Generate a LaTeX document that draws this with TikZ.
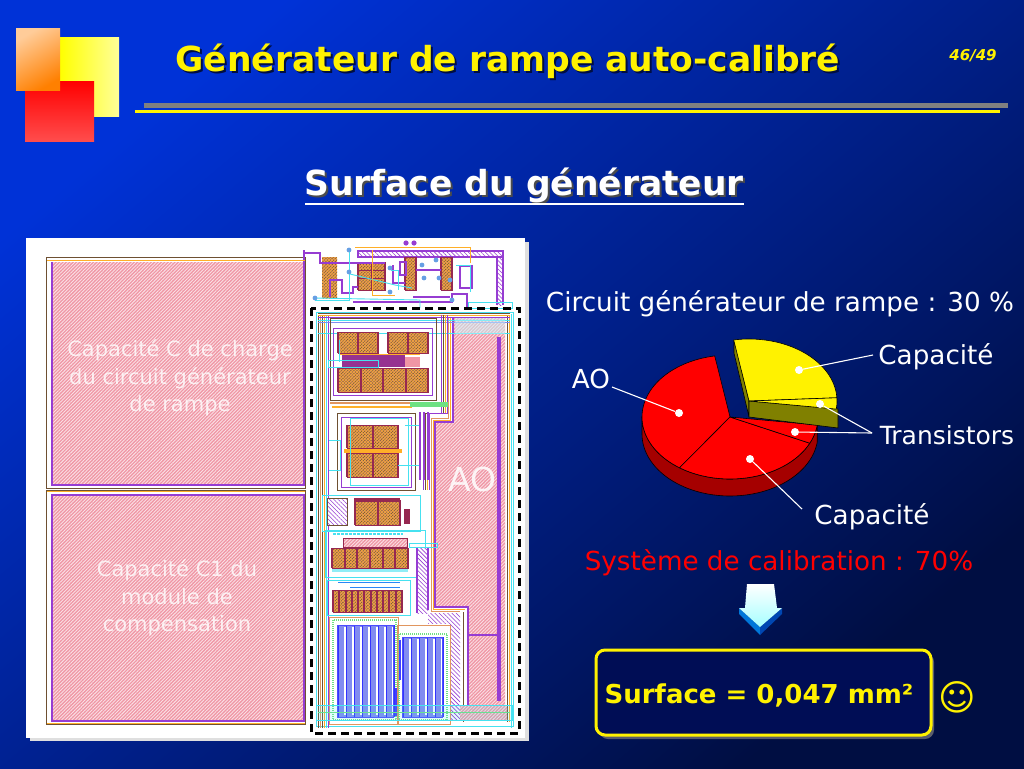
\documentclass[tikz,border=0pt]{standalone}
\usepackage{fontspec}
\setmainfont{DejaVu Sans}
\usetikzlibrary{patterns.meta}
\definecolor{bgtop}{RGB}{0,50,215}
\definecolor{bgbottom}{RGB}{0,14,66}
\definecolor{logoyellow}{RGB}{255,255,153}
\definecolor{layoutpink}{RGB}{240,150,165}
\definecolor{layoutpurple}{RGB}{150,60,210}
\definecolor{layoutcyan}{RGB}{70,225,240}
\definecolor{layoutbrown}{RGB}{225,150,95}
\definecolor{layoutorange}{RGB}{255,175,40}
\definecolor{layoutmaroon}{RGB}{150,40,80}
\definecolor{layoutblue}{RGB}{130,140,240}
\definecolor{layoutdark}{RGB}{110,80,50}
\definecolor{layoutgreen}{RGB}{110,225,130}
\definecolor{pieside}{RGB}{165,0,0}
\definecolor{pieolive}{RGB}{128,128,0}
\tikzset{
  titletext/.style={font=\bfseries\fontsize{34.5}{38}\selectfont, text=yellow},
  headtext/.style={font=\bfseries\fontsize{34.5}{38}\selectfont, text=white},
  bodytext/.style={font=\fontsize{26.2}{28}\selectfont, text=white},
  chiptext/.style={font=\fontsize{21}{27.5}\selectfont, text=white, opacity=0.8, align=center},
  leader/.style={white, line width=1.1pt},
  piedot/.style={circle, fill=white, inner sep=0pt, minimum size=8pt},
  pieedge/.style={black, line width=0.6pt, line join=round},
  pinkplate/.style={pattern={Lines[angle=45,distance=2.4pt,line width=0.9pt]}, pattern color=white!70!layoutpink, preaction={fill=layoutpink}},
  brownplate/.style={pattern={Lines[angle=45,distance=2.2pt,line width=0.6pt]}, pattern color=layoutdark, preaction={fill=layoutbrown},
    postaction={pattern={Lines[angle=-45,distance=2.2pt,line width=0.5pt]}, pattern color=layoutorange}},
  routeband/.style={pattern={Lines[angle=-45,distance=3pt,line width=0.6pt]}, pattern color=layoutpurple, preaction={fill=white}},
  wire/.style={layoutpurple, line width=1.2pt},
  thickwire/.style={layoutpurple, line width=2.4pt},
  cyanwire/.style={layoutcyan, line width=0.9pt},
}
% bloc de transistors
\newcommand{\chipblock}[5]{
  \fill[brownplate] (#1,#2) rectangle (#3,#4);
  \foreach \k in {0,...,#5}
    \fill[layoutmaroon] ({#1+(#3-#1)*\k/#5-1},#2) rectangle ++(2,{#4-#2});
  \draw[layoutmaroon, line width=1pt] (#1,#2) rectangle (#3,#4);
}
% doigts de capacite
\newcommand{\capfingers}[5]{
  \fill[layoutblue] (#1,#2) rectangle (#3,#4);
  \foreach \k in {0,...,#5} {
    \draw[white, line width=1.4pt] ({#1+(#3-#1)*\k/#5},{#2+2}) -- ({#1+(#3-#1)*\k/#5},{#4-2});
    \draw[blue!80!white, line width=0.5pt] ({#1+(#3-#1)*\k/#5+1.5},#2) -- ({#1+(#3-#1)*\k/#5+1.5},#4);
  }
  \draw[blue!70!white, line width=0.7pt] (#1,#2) rectangle (#3,#4);
}
\begin{document}
\begin{tikzpicture}[x=1pt, y=-1pt]
  \useasboundingbox (0,0) rectangle (1024,768);
  \shade[shading=axis, top color=bgtop, bottom color=bgbottom, shading angle=40] (0,0) rectangle (1024,768);

  % logo
  \shade[left color=yellow, right color=logoyellow] (60,38) rectangle (119,116);
  \shade[top color=red, bottom color=red!70!white] (25,81) rectangle (94,141);
  \shade[shading=axis, top color=orange!40!white, bottom color=orange, shading angle=30] (16,29) rectangle (60,90);
  \fill[gray] (144,103) rectangle (1008,108);
  \fill[yellow] (135,110) rectangle (1000,113);

  % titres
  \node[titletext, text=bgbottom] at (510,63) {Générateur de rampe auto-calibré};
  \node[titletext] (mainTitle) at (508,61) {Générateur de rampe auto-calibré};
  \node[font=\bfseries\itshape\fontsize{15}{18}\selectfont, text=yellow] (pageNum) at (973,56) {46/49};
  \node[headtext, text=black!70] at (526,187) {Surface du générateur};
  \node[headtext] (subTitle) at (524,185) {Surface du générateur};
  \draw[white, line width=1.5pt] (305,204) -- (744,204);

  % panneau du layout
  \fill[gray!25] (30,242) rectangle (529,741);
  \fill[white] (26,238) rectangle (525,738);

  % capacites C et C1
  \draw[layoutdark, line width=0.8pt] (46,257) rectangle (305,488);
  \draw[layoutdark, line width=0.8pt] (46,490) rectangle (305,724);
  \fill[pinkplate] (52,262) rectangle (304,485);
  \fill[pinkplate] (52,495) rectangle (304,721);
  \draw[layoutpurple, line width=1.4pt] (52,262) -- (52,485) -- (304,485) -- (304,250);
  \draw[layoutpurple, line width=1.4pt] (52,495) -- (52,721) -- (304,721) -- (304,495) -- cycle;
  \draw[layoutorange, line width=1pt] (47,260) -- (305,260);
  \draw[layoutorange, line width=1pt] (47,491) -- (305,491);
  \draw[layoutorange, line width=1pt] (47,723) -- (305,723);
  \node[chiptext] (capC) at (180,378) {Capacité C de charge\\du circuit générateur\\de rampe};
  \node[chiptext] (capCone) at (177,598) {Capacité C1 du\\module de\\compensation};

  % circuit du haut
  \fill[routeband] (358,251) rectangle (503,257);
  \fill[routeband] (497,251) rectangle (503,305);
  \draw[wire] (358,251) rectangle (503,257);
  \draw[wire] (497,257) -- (497,305) (503,257) -- (503,305);
  \fill[brownplate] (322,257) rectangle (337,298);
  \chipblock{358}{262}{385}{290}{2}
  \chipblock{405}{257}{416}{290}{1}
  \chipblock{441}{257}{452}{290}{1}
  \draw[thickwire] (305,253) -- (320,253) -- (320,263) -- (385,263);
  \draw[thickwire] (330,297) -- (330,280) -- (342,280) -- (342,293) -- (353,293) -- (353,287) -- (358,287);
  \draw[thickwire] (353,302) -- (452,302) -- (452,294) -- (467,294) -- (467,307);
  \draw[thickwire] (413,297) -- (450,297);
  \draw[thickwire] (460,266) -- (472,266) -- (472,288) -- (460,288) -- cycle;
  \draw[wire] (393,265) -- (393,283) -- (405,283) (416,270) -- (441,270) (400,275) rectangle (406,262);
  \draw[layoutmaroon, line width=1pt] (358,270) -- (385,270) (358,278) -- (385,278);
  \draw[cyanwire] (349,250) -- (349,300) -- (315,300);
  \draw[cyanwire] (315,298) -- (420,300) -- (420,308);
  \draw[cyanwire] (350,274) -- (395,285) -- (412,288);
  \draw[cyanwire] (391,270) -- (398,270) -- (398,290) (456,265) -- (470,265) -- (470,292);
  \draw[cyanwire] (468,302) rectangle (512,308);
  \draw[layoutorange, line width=0.8pt] (355,247) -- (470,247) -- (470,263);
  \draw[layoutorange, line width=0.8pt] (372,250) -- (372,295) -- (395,295);
  \foreach \px in {406,414} \fill[layoutpurple] (\px,243) circle (2.6);
  \foreach \px/\py in {349/250, 349/272, 390/268, 436/260, 439/278, 450/280, 452/300, 422/265, 424/278, 315/298, 390/292}
    \fill[layoutcyan!60!layoutpurple] (\px,\py) circle (2.4);

  % bande AO
  \fill[pinkplate] (453,317) -- (505,317) -- (505,720) -- (468,720) -- (468,607) -- (435,607) -- (435,422) -- (453,422) -- cycle;
  \draw[wire] (453,317) -- (453,422) -- (435,422) -- (435,607) -- (468,607) -- (468,720);
  \draw[wire] (500,338) -- (500,700) -- (498,700) -- (498,338) -- cycle;
  \draw[wire] (468,635) -- (500,635);
  \draw[layoutbrown, line width=1pt] (448,317) -- (448,418) -- (431,418) -- (431,611) -- (460,611);
  \draw[layoutorange, line width=0.8pt] (450,317) -- (450,420) -- (433,420) -- (433,609) -- (465,609);
  \draw[layoutdark, line width=0.8pt] (507,315) -- (507,722);
  \draw[layoutorange, line width=0.8pt] (509,315) -- (509,722);
  \draw[layoutdark, line width=0.8pt] (463,612) -- (463,722);
  \draw[cyanwire] (513,312) -- (513,726) -- (316,726) -- (316,312) -- cycle;
  \draw[cyanwire] (511,314) -- (511,728);
  \node[font=\fontsize{33}{38}\selectfont, text=white, opacity=0.85] (aoLabel) at (472,479) {AO};

  % colonne de gauche du bloc
  \foreach \px/\pc in {318/layoutdark, 320/layoutbrown, 322/layoutdark, 324/layoutorange, 326/layoutcyan, 328/layoutpurple}
    \draw[\pc, line width=1pt] (\px,315) -- (\px,728);

  % anneaux du haut
  \foreach \ry/\rc in {313/layoutdark, 315/layoutorange, 317/layoutpurple, 320/layoutcyan, 322/layoutblue, 333/layoutcyan}
    \draw[\rc, line width=0.9pt] (318,\ry) -- (510,\ry);
  \foreach \rx/\rc in {441/layoutpurple, 443/layoutdark, 445/layoutorange, 447/layoutpurple}
    \draw[\rc, line width=0.9pt] (\rx,315) -- (\rx,413) -- ({\rx-18},413) -- ({\rx-18},490);

  % transistors du milieu
  \draw[layoutdark, line width=1pt] (330,318) rectangle (436,400);
  \draw[layoutpurple, line width=1pt] (333,328) rectangle (432,395);
  \chipblock{338}{332}{378}{353}{2}
  \chipblock{388}{332}{428}{353}{2}
  \fill[layoutmaroon!50!layoutpurple] (342,355) rectangle (405,367);
  \fill[layoutpink] (405,357) rectangle (420,367);
  \chipblock{338}{368}{428}{392}{4}
  \draw[layoutorange, line width=0.9pt] (340,354) -- (420,354);
  \draw[cyanwire] (328,360) rectangle (378,367);
  \draw[cyanwire] (339,340) -- (339,362);
  \fill[layoutcyan!30!white, opacity=0.5] (455,318) rectangle (505,334);
  \draw[layoutbrown, line width=1.5pt] (330,403) -- (448,403);
  \draw[layoutorange, line width=1.2pt] (332,407) -- (412,407);
  \fill[layoutgreen] (410,402) rectangle (448,407);

  \draw[layoutdark, line width=1pt] (337,413) rectangle (415,490);
  \draw[layoutpurple, line width=1pt] (341,417) rectangle (411,487);
  \chipblock{347}{425}{398}{448}{2}
  \chipblock{347}{453}{398}{477}{2}
  \fill[layoutorange] (344,449) rectangle (402,453);
  \draw[cyanwire] (350,418) rectangle (408,485);
  \draw[cyanwire] (329,440) -- (340,440) -- (340,470) -- (329,470);
  \draw[cyanwire] (405,425) -- (420,425) -- (420,465) -- (398,465);
  \foreach \rx in {420,424,428}
    \draw[wire] (\rx,412) -- (\rx,480);

  % transistors du bas
  \fill[routeband] (327,498) rectangle (347,525);
  \draw[layoutdark, line width=1pt] (327,498) rectangle (347,525);
  \chipblock{355}{500}{400}{525}{2}
  \fill[layoutmaroon] (354,498) rectangle (400,502);
  \fill[layoutmaroon] (404,509) rectangle (410,524);
  \draw[cyanwire] (322,495) rectangle (420,531);
  \draw[layoutcyan, line width=2pt, dash pattern=on 3pt off 1pt] (333,534) -- (403,534);
  \fill[pinkplate] (343,538) rectangle (407,547);
  \draw[layoutmaroon, line width=0.8pt] (343,538) rectangle (407,547);
  \chipblock{332}{548}{408}{568}{6}
  \draw[cyanwire] (325,530) -- (425,530) -- (425,577) -- (325,577) -- cycle;
  \fill[layoutcyan!60!white] (332,569) rectangle (408,572);
  \chipblock{333}{590}{402}{612}{11}
  \draw[cyanwire] (327,580) rectangle (410,615);
  \draw[layoutcyan!60!blue, line width=1pt] (338,582) -- (400,582) (350,587) -- (400,587);
  \fill[routeband] (417,547) rectangle (428,613);
  \fill[routeband] (428,613) -- (460,613) -- (460,623) -- (428,623) -- cycle;
  \fill[routeband] (450,623) rectangle (460,720);
  \draw[wire] (417,547) -- (417,613) (428,547) -- (428,610);
  \draw[cyanwire] (409,543) rectangle (437,547);

  % capacites de compensation
  \draw[layoutbrown, line width=1pt] (329,617) rectangle (398,724);
  \draw[layoutgreen, line width=1.4pt, dash pattern=on 1pt off 1pt] (333,620) rectangle (396,720);
  \capfingers{337}{625}{393}{717}{7}
  \draw[layoutbrown, line width=1pt] (397,625) rectangle (450,724);
  \draw[layoutgreen, line width=1.4pt, dash pattern=on 1pt off 1pt] (399,634) rectangle (447,720);
  \capfingers{402}{637}{442}{717}{5}
  \fill[blue!75!white] (399,640) rectangle (401,680);
  \fill[blue!75!white] (395,688) rectangle (397,716);
  \fill[pinkplate] (460,705) rectangle (507,720);
  \draw[cyanwire] (316,705) rectangle (512,720);
  \draw[layoutgreen, line width=0.8pt] (318,712) -- (510,712);
  \fill[layoutcyan, opacity=0.15] (316,705) rectangle (512,720);

  % cadre pointille
  \draw[black, line width=3pt, dash pattern=on 8pt off 5pt] (311,308) rectangle (519,733);

  % camembert
  \fill[pieside] plot[domain=180:352.6, samples=60] ({730+88*cos(\x)},{417-62*sin(\x)})
    -- plot[domain=352.6:180, samples=60] ({730+88*cos(\x)},{434-62*sin(\x)}) -- cycle;
  \draw[pieedge] plot[domain=180:352.6, samples=60] ({730+88*cos(\x)},{417-62*sin(\x)})
    -- plot[domain=352.6:180, samples=60] ({730+88*cos(\x)},{434-62*sin(\x)}) -- cycle;
  \draw[pieedge, fill=red] (730,417) -- plot[domain=100:235, samples=50] ({730+88*cos(\x)},{417-62*sin(\x)}) -- cycle;
  \draw[pieedge, fill=red] (730,417) -- plot[domain=235:335, samples=40] ({730+88*cos(\x)},{417-62*sin(\x)}) -- cycle;
  \draw[pieedge, fill=red] (730,417) -- plot[domain=335:352.6, samples=10] ({730+88*cos(\x)},{417-62*sin(\x)}) -- cycle;
  \draw[pieedge, fill=pieolive] (749,401) -- (734,340) -- (734,353) -- (749,417) -- cycle;
  \draw[pieedge, fill=pieolive] (749,401) -- (838,409) -- (838,428) -- (749,417) -- cycle;
  \draw[pieedge, fill=yellow] (749,401) -- plot[domain=100:3, samples=50] ({749+88*cos(\x)},{401-62*sin(\x)}) -- cycle;
  \draw[pieedge, fill=yellow] (749,401) -- plot[domain=3:-7.5, samples=6] ({749+88*cos(\x)},{401-62*sin(\x)}) -- cycle;

  % points du camembert
  \node[piedot] (dotCapTop) at (799,370) {};
  \node[piedot] (dotTransTop) at (820,404) {};
  \node[piedot] (dotTransLow) at (795,432) {};
  \node[piedot] (dotCapLow) at (750,459) {};
  \node[piedot] (dotAO) at (679,413) {};

  % textes de droite
  \node[bodytext] (circuitLabel) at (780,304) {Circuit générateur de rampe : 30 \%};
  \node[bodytext] (aoPie) at (591,379) {AO};
  \node[bodytext] (capTop) at (936,357) {Capacité};
  \node[bodytext, font=\fontsize{25}{28}\selectfont] (transLabel) at (947,435) {Transistors};
  \node[bodytext] (capLow) at (872,517) {Capacité};
  \node[bodytext, text=red] (calibLabel) at (779,563) {Système de calibration : 70\%};

  \coordinate (aoEnd) at (612,387);
  \coordinate (capTopEnd) at (873,355);
  \coordinate (transEnd) at (872,433);
  \coordinate (capLowEnd) at (802,509);
  \draw[leader] (aoEnd) -- (dotAO);
  \draw[leader] (capTopEnd) -- (dotCapTop);
  \draw[leader] (transEnd) -- (dotTransTop);
  \draw[leader] (transEnd) -- (dotTransLow);
  \draw[leader] (capLowEnd) -- (dotCapLow);

  % fleche
  \fill[blue!45!cyan!85!black] (739,608) -- (760,627) -- (760,635) -- (739,614) -- cycle;
  \fill[blue!60!cyan!70!black] (782,608) -- (760,627) -- (760,635) -- (782,614) -- cycle;
  \shade[top color=white, bottom color=cyan!35!white] (747,584) -- (774,584) -- (777,608) -- (782,608) -- (760,627) -- (739,608) -- (745,608) -- cycle;

  % resultat
  \fill[gray!70!bgbottom, rounded corners=9pt] (599,653) rectangle (934,739);
  \draw[yellow, line width=3pt, fill=bgbottom!90!blue, rounded corners=9pt] (596,650) rectangle (931,735);
  \node[font=\bfseries\fontsize{26}{28}\selectfont, text=yellow] (surfLabel) at (759,695) {Surface = 0,047 mm²};
  \node[font=\fontsize{36}{40}\selectfont, text=yellow] (smiley) at (957,697) {☺};
\end{tikzpicture}
\end{document}
